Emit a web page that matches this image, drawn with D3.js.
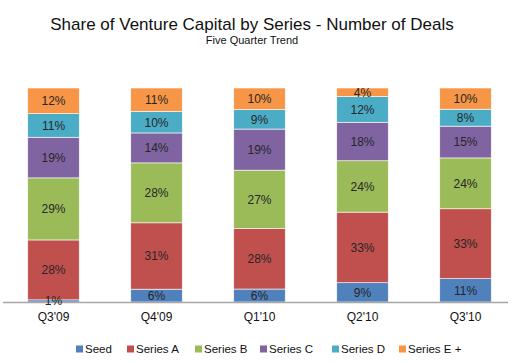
<!DOCTYPE html>
<html>
<head>
<meta charset="utf-8">
<script src="https://cdn.jsdelivr.net/npm/d3@7/dist/d3.min.js"></script>
<style>
  body { margin: 0; background: #fff; }
  svg text { font-family: "Liberation Sans", Arial, sans-serif; }
</style>
</head>
<body>
<div id="app"></div>
<script>
// quarters on the x axis
const quarters = ["Q3'09", "Q4'09", "Q1'10", "Q2'10", "Q3'10"]
const seriesNames = ['Seed', 'Series A', 'Series B', 'Series C', 'Series D', 'Series E +']
const seriesColors = ['#4f81bd', '#c0504d', '#9bbb59', '#8064a2', '#4bacc6', '#f79646']

// percent of deals, one array per series, in quarter order
const seed    = [1, 6, 6, 9, 11]
const seriesA = [28, 31, 28, 33, 33]
const seriesB = [29, 28, 27, 24, 24]
const seriesC = [19, 14, 19, 18, 15]
const seriesD = [11, 10, 9, 12, 8]
const seriesE = [12, 11, 10, 4, 10]

const width = 520
const height = 363
const allSeries = [seed, seriesA, seriesB, seriesC, seriesD, seriesE]

const rows = quarters.map((q, i) => {
  let row = { quarter: q }
  seriesNames.forEach((s, j) => { row[s] = allSeries[j][i] })
  return row
})

// 100% stacked, like the spreadsheet does it
const stacked = d3.stack().keys(seriesNames).offset(d3.stackOffsetExpand)(rows)

const svg = d3.select('#app').append('svg')
  .attr('width', width)
  .attr('height', height)

const x = d3.scaleBand().domain(quarters).range([2, 517]).paddingInner(0.5).paddingOuter(0.25)
const y = d3.scaleLinear().domain([0, 1]).range([302, 88])

svg.append('text')
  .attr('x', 252).attr('y', 30)
  .attr('text-anchor', 'middle')
  .style('font-size', '17px')
  .style('fill', '#111')
  .text('Share of Venture Capital by Series - Number of Deals')

svg.append('text')
  .attr('x', 252).attr('y', 44)
  .attr('text-anchor', 'middle')
  .style('font-size', '11px')
  .style('fill', '#111')
  .text('Five Quarter Trend')

const layers = svg.selectAll('g.layer')
  .data(stacked)
  .enter().append('g')
  .attr('class', 'layer')
  .style('fill', (d, i) => seriesColors[i])

layers.selectAll('rect')
  .data(d => d)
  .enter().append('rect')
  .attr('x', d => x(d.data.quarter))
  .attr('width', x.bandwidth())
  .attr('y', d => y(d[1]))
  .attr('height', d => y(d[0]) - y(d[1]))
  .style('stroke', '#fff')
  .style('stroke-width', 0.6)

// axis line
svg.append('line')
  .attr('x1', 3).attr('x2', 508)
  .attr('y1', 302.5).attr('y2', 302.5)
  .style('stroke', '#a6a6a6')
  .style('stroke-width', 1.5)

// value labels
stacked.forEach((layer, j) => {
  svg.append('g').selectAll('text')
    .data(layer)
    .enter().append('text')
    .attr('x', d => x(d.data.quarter) + x.bandwidth() / 2)
    .attr('y', d => (y(d[0]) + y(d[1])) / 2)
    .attr('dy', '0.36em')
    .attr('text-anchor', 'middle')
    .style('font-size', '12px')
    .style('fill', '#262626')
    .text((d, i) => allSeries[j][i] + '%')
})

// category labels
svg.append('g').selectAll('text')
  .data(quarters)
  .enter().append('text')
  .attr('x', d => x(d) + x.bandwidth() / 2)
  .attr('y', 321)
  .attr('text-anchor', 'middle')
  .style('font-size', '12px')
  .style('fill', '#111')
  .text(d => d)

// legend
const legendX = [76, 127, 195, 260, 332, 399]
const legend = svg.append('g').selectAll('g')
  .data(seriesNames)
  .enter().append('g')
  .attr('transform', (d, i) => 'translate(' + legendX[i] + ',349)')

legend.append('rect')
  .attr('x', 0).attr('y', -3.5)
  .attr('width', 7).attr('height', 7)
  .style('fill', (d, i) => seriesColors[i])

legend.append('text')
  .attr('x', 9).attr('y', 0)
  .attr('dy', '0.36em')
  .style('font-size', '11.5px')
  .style('fill', '#111')
  .text(d => d)
</script>
</body>
</html>
